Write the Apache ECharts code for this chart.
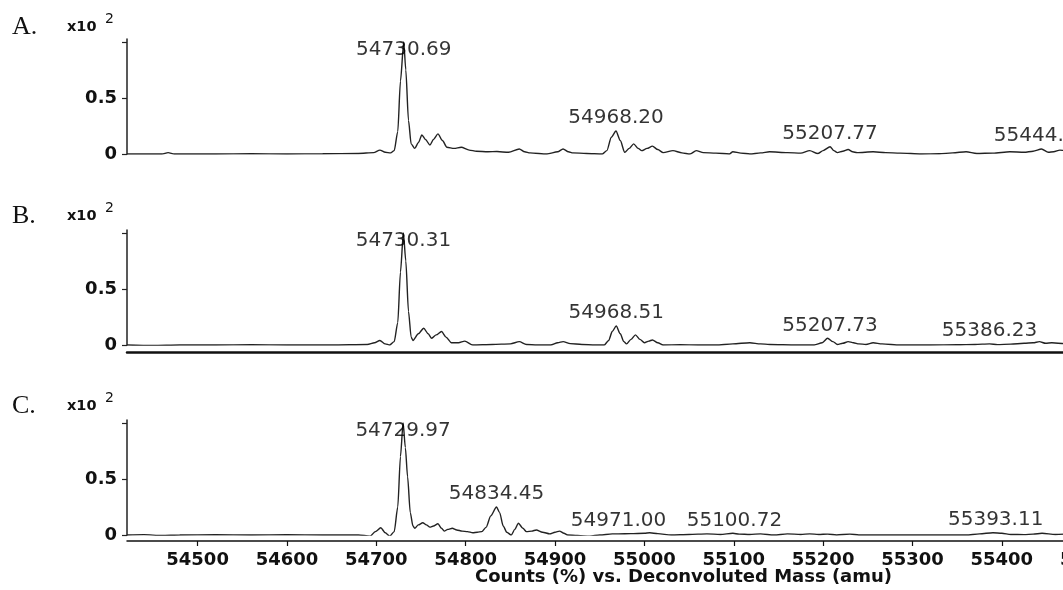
<!DOCTYPE html>
<html><head><meta charset="utf-8">
<script src="https://cdn.jsdelivr.net/npm/echarts@6/dist/echarts.min.js"></script>
<style>html,body{margin:0;padding:0;overflow:hidden;background:#fff}#c{width:1130px;height:590px}</style>
</head><body><div id="c"></div>
<script>
// ---- data ----
const panelNames = ['A.', 'B.', 'C.'];
const xTicks = [54500, 54600, 54700, 54800, 54900, 55000, 55100, 55200, 55300, 55400, 55500];
const yTicks = [0, 0.5, 1];
const yTickLabels = ['0', '0.5', ''];
const xTitle = 'Counts (%) vs. Deconvoluted Mass (amu)';
const scaleLabel = 'x10';
const scaleExp = '2';

const massA = [54421,54440,54460,54467,54474,54520,54560,54600,54640,54680,54697,54704,54710,54716,54720,54724,54727,54730.7,54733,54736,54739,54743,54747,54751,54755,54760,54764,54769,54774,54779,54787,54795,54804,54812,54825,54835,54848,54860,54866,54872,54891,54903,54909,54915,54920,54935,54953,54958,54963,54968.2,54973,54978,54983,54988,54993,54997,55003,55009,55015,55021,55032,55042,55051,55058,55066,55080,55095,55099,55108,55118,55130,55140,55160,55175,55185,55194,55200,55207.8,55212,55216,55222,55228,55233,55238,55256,55270,55286,55310,55330,55345,55360,55372,55390,55409,55425,55435,55444.4,55452,55458,55465,55480,55500,55530];
const intA  = [0,0,0,0.012,0,0,0.003,0,0.002,0.005,0.012,0.035,0.015,0.01,0.03,0.2,0.65,1.0,0.75,0.3,0.09,0.05,0.1,0.17,0.13,0.08,0.13,0.18,0.12,0.06,0.05,0.06,0.035,0.025,0.02,0.022,0.015,0.045,0.02,0.01,0,0.02,0.045,0.02,0.01,0.005,0,0.03,0.15,0.205,0.12,0.015,0.05,0.09,0.05,0.03,0.05,0.07,0.04,0.012,0.03,0.01,0,0.03,0.012,0.008,0,0.02,0.008,0,0.01,0.02,0.012,0.008,0.03,0.004,0.03,0.065,0.03,0.012,0.025,0.04,0.02,0.012,0.02,0.012,0.008,0,0.002,0.01,0.02,0.005,0.008,0.02,0.015,0.025,0.045,0.015,0.02,0.035,0.02,0.015,0.01];
const peakMassA = [54730.69, 54968.20, 55207.77, 55444.40];
const peakIntA  = [1.0, 0.205, 0.065, 0.045];

const massB = [54421,54450,54480,54520,54560,54600,54650,54690,54698,54704,54710,54715,54720,54724,54727,54730.3,54733,54736,54739,54741,54747,54753,54758,54762,54767,54773,54778,54784,54792,54799,54808,54830,54850,54860,54868,54880,54895,54903,54909,54917,54930,54945,54955,54960,54964,54968.5,54973,54977,54980,54985,54990,54995,55000,55005,55009,55015,55021,55040,55060,55080,55099,55118,55130,55140,55170,55190,55199,55205,55211,55216,55222,55228,55234,55240,55248,55256,55266,55286,55320,55350,55370,55386.2,55395,55410,55425,55435,55442,55449,55456,55470,55500,55530];
const intB  = [0,-0.005,0,0,0.002,0,0,0.005,0.02,0.04,0.01,0,0.03,0.2,0.65,1.0,0.75,0.3,0.07,0.04,0.1,0.15,0.1,0.06,0.09,0.12,0.07,0.02,0.02,0.035,0,0.005,0.01,0.03,0.005,0,0,0.02,0.03,0.012,0.005,0,0,0.04,0.12,0.17,0.1,0.03,0.01,0.05,0.09,0.05,0.02,0.035,0.045,0.02,0,0.002,0,0,0.01,0.02,0.01,0.005,0,0,0.02,0.06,0.03,0.005,0.015,0.03,0.02,0.01,0.005,0.02,0.01,0,0,0.002,0.005,0.01,0.003,0.008,0.015,0.02,0.03,0.015,0.02,0.012,0.01,0.005];
const peakMassB = [54730.31, 54968.51, 55207.73, 55386.23];
const peakIntB  = [1.0, 0.17, 0.06, 0.01];

const massC = [54421,54440,54460,54480,54520,54560,54600,54640,54680,54693,54699,54705,54710,54715,54720,54724,54727,54730,54732.5,54735,54738,54741,54743,54747,54752,54756,54760,54764,54769,54773,54776,54780,54785,54790,54796,54802,54808,54813,54818,54823,54828,54834.5,54838,54842,54846,54851,54855,54859,54864,54868,54874,54879,54886,54894,54900,54905,54910,54914,54925,54939,54950,54964,54971,54985,55000,55006,55015,55030,55050,55070,55085,55099,55106,55118,55130,55145,55160,55175,55185,55195,55205,55215,55230,55240,55270,55320,55360,55375,55390,55400,55410,55425,55435,55445,55460,55480,55500,55530];
const intC  = [0,0.003,-0.005,0,0.002,0,0.003,0,0,-0.01,0.03,0.065,0.02,-0.01,0.03,0.25,0.7,1.0,0.78,0.52,0.2,0.08,0.06,0.09,0.11,0.09,0.07,0.08,0.1,0.06,0.035,0.05,0.06,0.045,0.035,0.03,0.02,0.025,0.03,0.07,0.17,0.25,0.2,0.08,0.025,0,0.05,0.105,0.06,0.03,0.035,0.045,0.025,0.01,0.025,0.035,0.015,0,-0.005,-0.01,0,0.01,0.01,0.012,0.015,0.02,0.012,0,0.005,0.01,0.005,0.015,0.008,0.005,0.01,0,0.01,0.005,0.01,0.005,0.008,0,0.008,0,0,0,0,0.01,0.02,0.015,0.005,0.003,0.008,0.015,0.005,0.01,0.008,0.005];
const peakMassC = [54729.97, 54834.45, 54971.00, 55100.72, 55393.11];
const peakIntC  = [1.0, 0.25, 0.01, 0.015, 0.02];

// ---- layout ----
const xMin = 54421, xMax = 55530;
const yMax = 1.027;
const zeroY = [154, 345, 535];
const unitPx = 112;
const gridLeft = 127, gridWidth = 991;

const panels = [
  {mass: massA, int: intA, pm: peakMassA, pi: peakIntA},
  {mass: massB, int: intB, pm: peakMassB, pi: peakIntB},
  {mass: massC, int: intC, pm: peakMassC, pi: peakIntC}
];

const grids = [], xAxes = [], yAxes = [], series = [], graphics = [];
const boldFont = 'DejaVu Sans';
panels.forEach((p, i) => {
  const h = unitPx * yMax;
  grids.push({left: gridLeft, width: gridWidth, top: zeroY[i] - h, height: h});
  const isB = i === 1, isC = i === 2;
  xAxes.push({
    type: 'value', gridIndex: i, min: xMin, max: xMax, splitNumber: 11,
    offset: isB ? 7 : (isC ? 6 : 0),
    axisLine: {show: isB || isC, onZero: false, lineStyle: {color: '#111', width: isB ? 2.5 : 1.5}},
    axisTick: {show: isC, length: 5, lineStyle: {color: '#111', width: 1.2}, customValues: xTicks},
    axisLabel: {show: isC, interval: 0, margin: 10, customValues: xTicks,
      formatter: v => String(v),
      fontFamily: boldFont, fontWeight: 'bold', fontSize: 18, color: '#111'},
    splitLine: {show: false}
  });
  yAxes.push({
    type: 'value', gridIndex: i, min: 0, max: yMax,
    axisLine: {show: true, onZero: false, lineStyle: {color: '#222', width: 1.5}},
    axisTick: {show: true, length: 5, customValues: yTicks, lineStyle: {color: '#222', width: 1.2}},
    axisLabel: {show: true, margin: 10, customValues: yTicks,
      formatter: v => { const k = yTicks.indexOf(v); return k >= 0 ? yTickLabels[k] : ''; },
      fontFamily: boldFont, fontWeight: 'bold', fontSize: 18, color: '#111'},
    splitLine: {show: false}
  });
  series.push({
    type: 'line', xAxisIndex: i, yAxisIndex: i, showSymbol: false, silent: true,
    smooth: 0.25, smoothMonotone: 'x',
    lineStyle: {color: '#222', width: 1.4},
    data: p.mass.map((m, k) => [m, p.int[k]]), z: 3
  });
  series.push({
    type: 'scatter', xAxisIndex: i, yAxisIndex: i, silent: true, symbolSize: 1,
    itemStyle: {color: 'rgba(0,0,0,0)'},
    label: {show: true, position: 'inside', formatter: q => q.value[0].toFixed(2),
      fontFamily: 'DejaVu Sans', fontSize: 20, color: '#000'},
    data: p.pm.map((m, k) => [m, Math.min(p.pi[k] + 0.115, 0.93)]), z: 5
  });
  const cy = [29, 218, 408][i];
  graphics.push({type: 'text', left: 12, top: cy - 15, style: {text: panelNames[i], font: '26px "Liberation Serif"', fill: '#111'}});
  graphics.push({type: 'text', left: 67, top: cy - 9, style: {text: scaleLabel, font: 'bold 14.5px "DejaVu Sans"', fill: '#111'}});
  graphics.push({type: 'text', left: 105, top: cy - 17, style: {text: scaleExp, font: '14px "DejaVu Sans"', fill: '#111'}});
});
graphics.push({type: 'text', left: 475, top: 568, style: {text: xTitle, font: 'bold 18px "DejaVu Sans"', fill: '#111'}});

const chart = echarts.init(document.getElementById('c'), null, {renderer: 'canvas'});
chart.setOption({
  animation: false,
  backgroundColor: '#fff',
  grid: grids, xAxis: xAxes, yAxis: yAxes, series: series, graphic: graphics
});
</script></body></html>
